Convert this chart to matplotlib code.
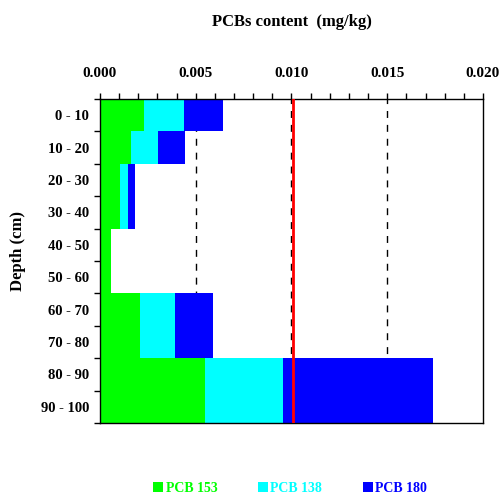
import numpy as np
import matplotlib as mpl
mpl.use("Agg")
import matplotlib.pyplot as plt
from matplotlib.ticker import MultipleLocator

mpl.rcParams.update({"font.family": "Liberation Serif", "font.weight": "bold", "font.size": 10.5})

depths = ["0 - 10", "10 - 20", "20 - 30", "30 - 40", "40 - 50",
          "50 - 60", "60 - 70", "70 - 80", "80 - 90", "90 - 100"]
pcb153 = [0.0023, 0.00162, 0.00104, 0.00104, 0.00057, 0.00057, 0.00209, 0.00209, 0.00548, 0.00548]
pcb138 = [0.00209, 0.00141, 0.00042, 0.00042, 0.0, 0.0, 0.00183, 0.00183, 0.00408, 0.00408]
pcb180 = [0.00203, 0.00141, 0.00037, 0.00037, 0.0, 0.0, 0.00198, 0.00198, 0.00783, 0.00783]
limit = 0.0101
xticks = [0.000, 0.005, 0.010, 0.015, 0.020]

GREEN = "#00ff00"; CYAN = "#00ffff"; BLUE = "#0000ff"

fig = plt.figure(figsize=(5.02, 4.94), dpi=100)
ax = fig.add_axes([100 / 502, 1 - 423 / 494, 383 / 502, 324 / 494])

y = np.arange(len(depths))
g = np.array(pcb153); c = np.array(pcb138); b = np.array(pcb180)
h1 = ax.barh(y, g, height=1.0, color=GREEN, lw=0, zorder=2)
h2 = ax.barh(y, c, left=g, height=1.0, color=CYAN, lw=0, zorder=2)
h3 = ax.barh(y, b, left=g + c, height=1.0, color=BLUE, lw=0, zorder=2)

for xv in [0.005, 0.010, 0.015]:
    ax.axvline(xv, color="black", lw=1.0, ls=(0, (5, 5)), zorder=1)
ax.axvline(limit, color="#ff0000", lw=2.0, zorder=3)

ax.set_xlim(0, 0.020)
ax.set_ylim(len(depths) - 0.5, -0.5)
ax.xaxis.tick_top()
ax.set_xticks(xticks)
ax.set_xticklabels(["%.3f" % v for v in xticks])
ax.xaxis.set_minor_locator(MultipleLocator(0.001))
ax.tick_params(axis="x", which="both", direction="out", length=4, width=1, pad=10, labelsize=11)
ax.set_yticks(y)
ax.set_yticklabels(depths)
ax.set_yticks(np.arange(len(depths) + 1) - 0.5, minor=True)
ax.tick_params(axis="y", which="major", length=0, pad=8, labelsize=10.5)
ax.tick_params(axis="y", which="minor", direction="out", length=4, width=1)
for s in ax.spines.values():
    s.set_linewidth(1.0)

fig.text(292 / 502, 1 - 22 / 494, "PCBs content  (mg/kg)", ha="center", va="center",
         fontsize=12, fontweight="bold")
fig.text(18 / 502, 1 - 251 / 494, "Depth (cm)", ha="center", va="center", rotation=90,
         fontsize=12, fontweight="bold")

fig.legend([h1, h2, h3], ["PCB 153", "PCB 138", "PCB 180"], loc="center",
           bbox_to_anchor=(290 / 502, 1 - 488 / 494), ncol=3, frameon=False,
           handlelength=0.72, handleheight=0.72, handletextpad=0.2, columnspacing=2.9,
           labelcolor=[GREEN, CYAN, BLUE], prop={"size": 10, "weight": "bold"})

fig.savefig("out.png", dpi=100)
